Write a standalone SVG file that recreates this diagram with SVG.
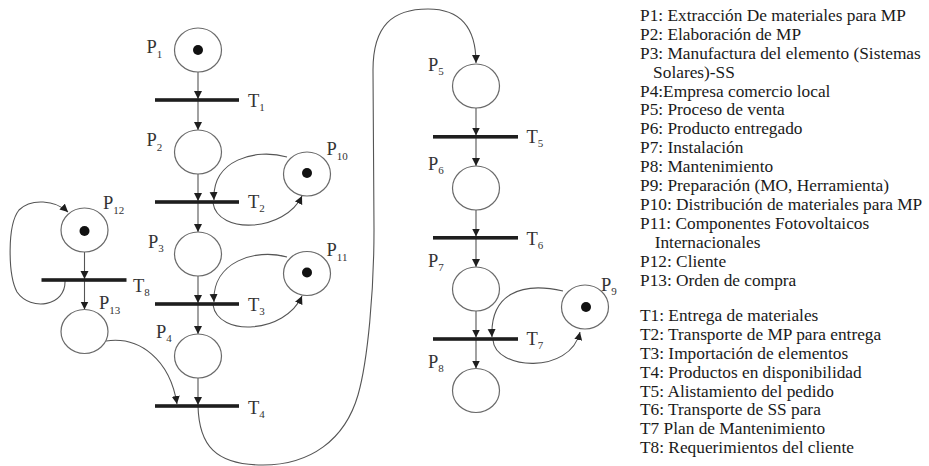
<svg xmlns="http://www.w3.org/2000/svg" width="929" height="466" viewBox="0 0 929 466">
  <style>
    .place { fill: #ffffff; stroke: #6a6a6a; stroke-width: 1.2; }
    .token { fill: #111111; }
    .bar { fill: #1e1e1e; }
    .arc { fill: none; stroke: #555555; stroke-width: 1.1; marker-end: url(#ah); }
    .lbl { font-family: "Liberation Serif", "Times New Roman", serif; font-size: 18.5px; fill: #333333; }
    .sub { font-size: 11px; }
    .legend { font-family: "Liberation Serif", "Times New Roman", serif; font-size: 16.5px; fill: #1a1a1a; }
  </style>
  <defs>
    <marker id="ah" markerUnits="userSpaceOnUse" markerWidth="10" markerHeight="10" refX="8" refY="4" orient="auto">
      <path d="M0,0 L8,4 L0,8 z" fill="#1e1e1e"/>
    </marker>
  </defs>
  <rect width="929" height="466" fill="#ffffff"/>

  <!-- connectors -->
  <g id="connectors">
    <!-- main column -->
    <line class="arc" x1="198" y1="72" x2="198" y2="99"/>
    <line class="arc" x1="198" y1="100" x2="198" y2="130"/>
    <line class="arc" x1="198" y1="174" x2="198" y2="201"/>
    <line class="arc" x1="198" y1="202" x2="198" y2="232"/>
    <line class="arc" x1="198" y1="276" x2="198" y2="303"/>
    <line class="arc" x1="198" y1="304" x2="198" y2="334"/>
    <line class="arc" x1="198" y1="378" x2="198" y2="405"/>
    <!-- P10 loop with T2 -->
    <path class="arc" d="M287 157 C255 148, 212 160, 214 200"/>
    <path class="arc" d="M213 203 C218 235, 285 232, 302 196"/>
    <!-- P11 loop with T3 -->
    <path class="arc" d="M287 257 C255 248, 212 262, 214 302"/>
    <path class="arc" d="M213 305 C218 337, 285 334, 302 296"/>
    <!-- left column -->
    <line class="arc" x1="84.5" y1="252" x2="84.5" y2="279"/>
    <line class="arc" x1="84.5" y1="280" x2="84.5" y2="309.5"/>
    <path class="arc" d="M65 281 C66 306, 31 312, 17 292 C8 275, 7 225, 19 210 C31 198, 55 200, 68 212"/>
    <path class="arc" d="M106 341 C140 336, 170 360, 177 404"/>
    <!-- T4 to P5 -->
    <path class="arc" d="M198 406 C199 445, 215 465, 263 465 C310 465, 345 440, 358 395 C368 360, 374 290, 374 230 L373 70 C373 25, 393 9, 428 9 C462 9, 476 30, 476 63"/>
    <!-- right column -->
    <line class="arc" x1="476" y1="108" x2="476" y2="135.5"/>
    <line class="arc" x1="476" y1="137" x2="476" y2="166"/>
    <line class="arc" x1="476" y1="210" x2="476" y2="236.5"/>
    <line class="arc" x1="476" y1="238" x2="476" y2="267"/>
    <line class="arc" x1="476" y1="311" x2="476" y2="337.5"/>
    <line class="arc" x1="476" y1="339" x2="476" y2="368.5"/>
    <!-- P9 loop with T7 -->
    <path class="arc" d="M563 291 C520 281, 490 295, 492 337"/>
    <path class="arc" d="M493 340 C495 370, 570 375, 580 332"/>
  </g>

  <!-- places -->
  <g id="P1"><ellipse class="place" cx="198" cy="50" rx="23.5" ry="22"/><circle class="token" cx="198" cy="50" r="5"/>
    <text class="lbl" x="146.5" y="53">P<tspan class="sub" dy="5">1</tspan></text></g>
  <g id="P2"><ellipse class="place" cx="198" cy="152" rx="23.5" ry="22"/>
    <text class="lbl" x="146.5" y="146">P<tspan class="sub" dy="5">2</tspan></text></g>
  <g id="P3"><ellipse class="place" cx="198" cy="254" rx="23.5" ry="22"/>
    <text class="lbl" x="148" y="248">P<tspan class="sub" dy="4">3</tspan></text></g>
  <g id="P4"><ellipse class="place" cx="198" cy="356" rx="23.5" ry="22"/>
    <text class="lbl" x="156" y="338">P<tspan class="sub" dy="4">4</tspan></text></g>
  <g id="P5"><ellipse class="place" cx="476" cy="86" rx="23.5" ry="22"/>
    <text class="lbl" x="428" y="71">P<tspan class="sub" dy="4">5</tspan></text></g>
  <g id="P6"><ellipse class="place" cx="476" cy="188" rx="23.5" ry="22"/>
    <text class="lbl" x="428" y="170">P<tspan class="sub" dy="4">6</tspan></text></g>
  <g id="P7"><ellipse class="place" cx="476" cy="289" rx="23.5" ry="22"/>
    <text class="lbl" x="428" y="267">P<tspan class="sub" dy="4">7</tspan></text></g>
  <g id="P8"><ellipse class="place" cx="476" cy="390.5" rx="23.5" ry="22"/>
    <text class="lbl" x="428" y="368">P<tspan class="sub" dy="4">8</tspan></text></g>
  <g id="P9"><ellipse class="place" cx="585" cy="307" rx="23.5" ry="22"/><circle class="token" cx="586" cy="307" r="5"/>
    <text class="lbl" x="601" y="291">P<tspan class="sub" dy="4">9</tspan></text></g>
  <g id="P10"><ellipse class="place" cx="307" cy="174" rx="23.5" ry="22"/><circle class="token" cx="307" cy="173" r="5"/>
    <text class="lbl" x="326.5" y="155">P<tspan class="sub" dy="5">10</tspan></text></g>
  <g id="P11"><ellipse class="place" cx="307" cy="273.5" rx="23.5" ry="22"/><circle class="token" cx="307" cy="272.5" r="5"/>
    <text class="lbl" x="326.5" y="256">P<tspan class="sub" dy="5">11</tspan></text></g>
  <g id="P12"><ellipse class="place" cx="84.5" cy="230" rx="23.5" ry="22"/><circle class="token" cx="84.5" cy="231" r="5"/>
    <text class="lbl" x="103" y="209">P<tspan class="sub" dy="5">12</tspan></text></g>
  <g id="P13"><ellipse class="place" cx="84.5" cy="331.5" rx="23.5" ry="22"/>
    <text class="lbl" x="99" y="309">P<tspan class="sub" dy="5">13</tspan></text></g>

  <!-- transitions -->
  <g id="T1"><rect class="bar" x="155" y="98.2" width="84" height="3.6"/>
    <text class="lbl" x="248" y="107">T<tspan class="sub" dy="4">1</tspan></text></g>
  <g id="T2"><rect class="bar" x="155" y="200.2" width="84" height="3.6"/>
    <text class="lbl" x="248" y="208">T<tspan class="sub" dy="4">2</tspan></text></g>
  <g id="T3"><rect class="bar" x="155" y="302.2" width="84" height="3.6"/>
    <text class="lbl" x="248" y="311">T<tspan class="sub" dy="4">3</tspan></text></g>
  <g id="T4"><rect class="bar" x="155" y="404.2" width="84" height="3.6"/>
    <text class="lbl" x="248" y="414">T<tspan class="sub" dy="4">4</tspan></text></g>
  <g id="T5"><rect class="bar" x="433" y="135" width="85" height="3.6"/>
    <text class="lbl" x="526.5" y="143">T<tspan class="sub" dy="4">5</tspan></text></g>
  <g id="T6"><rect class="bar" x="433" y="236" width="85" height="3.6"/>
    <text class="lbl" x="526.5" y="245">T<tspan class="sub" dy="4">6</tspan></text></g>
  <g id="T7"><rect class="bar" x="433" y="337.2" width="85" height="3.6"/>
    <text class="lbl" x="526.5" y="345">T<tspan class="sub" dy="4">7</tspan></text></g>
  <g id="T8"><rect class="bar" x="41.5" y="278.2" width="85" height="3.6"/>
    <text class="lbl" x="133" y="292">T<tspan class="sub" dy="4">8</tspan></text></g>

  <!-- legend -->
  <g id="legend" class="legend" transform="translate(640,0) scale(1.05,1)">
    <text x="0" y="21">P1: Extracción De materiales para MP</text>
    <text x="0" y="39.9">P2: Elaboración de MP</text>
    <text x="0" y="58.8">P3: Manufactura del elemento (Sistemas</text>
    <text x="12.5" y="77.7">Solares)-SS</text>
    <text x="0" y="96.6">P4:Empresa comercio local</text>
    <text x="0" y="115.5">P5: Proceso de venta</text>
    <text x="0" y="134.4">P6: Producto entregado</text>
    <text x="0" y="153.3">P7: Instalación</text>
    <text x="0" y="172.2">P8: Mantenimiento</text>
    <text x="0" y="191.1">P9: Preparación (MO, Herramienta)</text>
    <text x="0" y="210">P10: Distribución de materiales para MP</text>
    <text x="0" y="228.9">P11: Componentes Fotovoltaicos</text>
    <text x="14" y="247.8">Internacionales</text>
    <text x="0" y="266.7">P12: Cliente</text>
    <text x="0" y="285.6">P13: Orden de compra</text>
    <text x="0" y="321">T1: Entrega de materiales</text>
    <text x="0" y="339.9">T2: Transporte de MP para entrega</text>
    <text x="0" y="358.8">T3: Importación de elementos</text>
    <text x="0" y="377.7">T4: Productos en disponibilidad</text>
    <text x="0" y="396.6">T5: Alistamiento del pedido</text>
    <text x="0" y="415.5">T6: Transporte de SS para</text>
    <text x="0" y="434.4">T7 Plan de Mantenimiento</text>
    <text x="0" y="453.3">T8: Requerimientos del cliente</text>
  </g>
</svg>
